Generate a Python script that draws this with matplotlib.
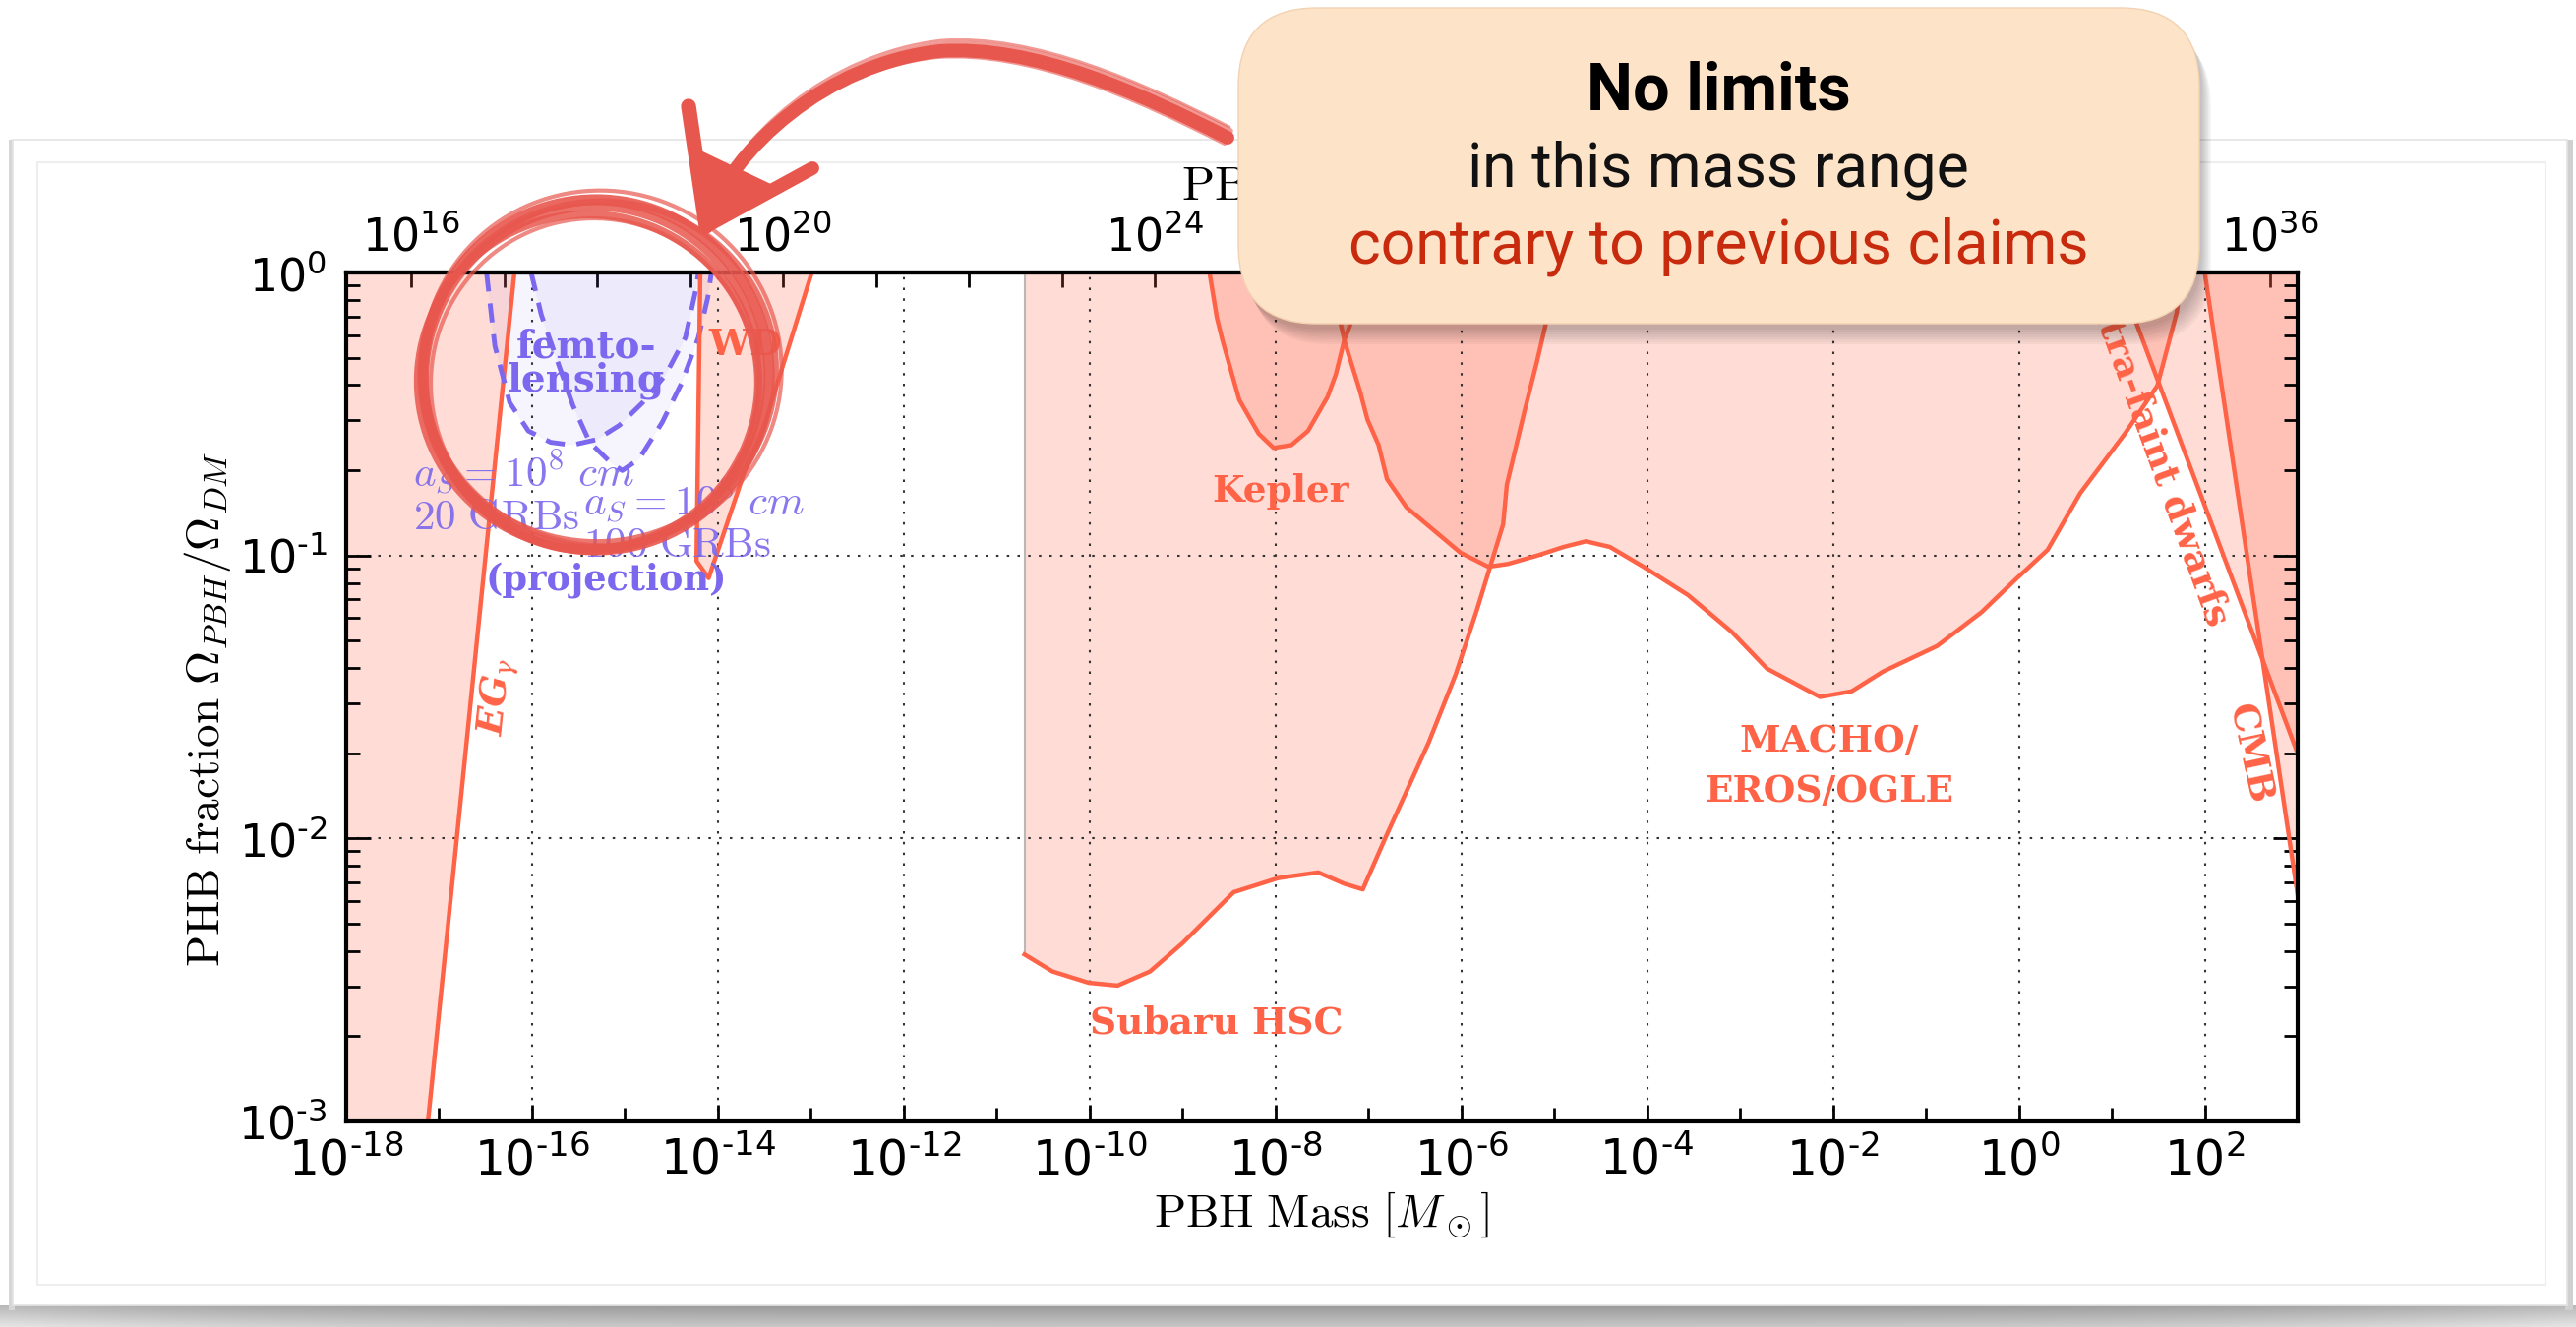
import numpy as np
import matplotlib.pyplot as plt
from matplotlib.patches import FancyBboxPatch, Ellipse, Rectangle, Polygon, PathPatch
from matplotlib.path import Path
from matplotlib.transforms import Affine2D

# ==========================
# Data (log10 values)
# x: log10(M / M_sun), y: log10(f = Omega_PBH / Omega_DM)
# ==========================
egamma_logm = [-17.12, -16.19]
egamma_logf = [-3.0, 0.0]

wd_logm = [-14.19, -14.23, -14.10, -13.71, -13.50, -12.99]
wd_logf = [0.0, -1.02, -1.08, -0.70, -0.54, 0.0]

femto20_logm = [-16.49, -16.40, -16.24, -16.04, -15.80, -15.57, -15.30, -15.06,
                -14.81, -14.56, -14.35, -14.23, -14.21]
femto20_logf = [0.0, -0.26, -0.46, -0.56, -0.60, -0.61, -0.59, -0.54,
                -0.46, -0.36, -0.23, -0.05, 0.0]

femto100_logm = [-16.01, -15.90, -15.72, -15.56, -15.38, -15.16, -15.03, -14.85,
                 -14.60, -14.39, -14.21, -14.11, -14.07]
femto100_logf = [0.0, -0.15, -0.32, -0.47, -0.60, -0.67, -0.70, -0.66,
                 -0.53, -0.39, -0.23, -0.09, 0.0]

hsc_logm = [-10.70, -10.40, -10.01, -9.70, -9.35, -9.00, -8.45, -7.97, -7.54, -7.26,
            -7.06, -6.82, -6.35, -6.06, -5.83, -5.69, -5.55, -5.51, -5.32, -5.19,
            -5.09, -5.04]
hsc_logf = [-2.41, -2.47, -2.51, -2.52, -2.47, -2.37, -2.19, -2.14, -2.12, -2.16,
            -2.18, -2.00, -1.66, -1.42, -1.19, -1.04, -0.89, -0.75, -0.49, -0.32,
            -0.18, 0.0]

kepler_logm = [-8.71, -8.63, -8.57, -8.39, -8.18, -8.02, -7.83, -7.65, -7.44,
               -7.35, -7.26, -7.19, -7.12]
kepler_logf = [0.0, -0.16, -0.24, -0.45, -0.57, -0.62, -0.61, -0.56, -0.44,
               -0.36, -0.24, -0.18, 0.0]

eros_logm = [-7.42, -7.30, -7.25, -7.09, -7.01, -6.89, -6.80, -6.59, -6.30, -6.01,
             -5.71, -5.50, -5.18, -4.90, -4.66, -4.40, -4.04, -3.56, -3.09, -2.71,
             -2.14, -1.80, -1.46, -0.88, -0.40, -0.02, 0.08, 0.31, 0.66, 1.14,
             1.49, 1.70, 1.75]
eros_logf = [0.0, -0.18, -0.25, -0.42, -0.52, -0.61, -0.73, -0.83, -0.91, -0.99,
             -1.04, -1.03, -1.00, -0.97, -0.95, -0.97, -1.04, -1.14, -1.27, -1.40,
             -1.50, -1.48, -1.41, -1.32, -1.20, -1.08, -1.05, -0.98, -0.78, -0.57,
             -0.40, -0.14, 0.0]

ufd_logm = [1.06, 3.0]
ufd_logf = [0.0, -1.70]

cmb_logm = [2.0, 3.0]
cmb_logf = [0.0, -2.20]

bottom_exps = list(range(-18, 3, 2))
top_exps = list(range(16, 37, 4))
y_exps = [-3, -2, -1, 0]

MSUN_G = 1.989e33
XMIN, XMAX = 1e-18, 1e3
YMIN, YMAX = 1e-3, 1.0

RED = "#FF6347"
BLUE = "#7B68EE"
BRUSH = "#E8574E"

W, H = 2619, 1349
fig = plt.figure(figsize=(W / 100, H / 100), dpi=100)


def tick_label(e):
    if e < 0:
        return r"$\mathdefault{10^{\text{-}%d}}$" % (-e)
    return r"$\mathdefault{10^{%d}}$" % e


def p(v):
    return 10.0 ** np.asarray(v, dtype=float)


# ==========================
# Slide card in the background
# ==========================
bg = fig.add_axes([0, 0, 1, 1], zorder=0)
bg.set_xlim(0, W)
bg.set_ylim(H, 0)
bg.axis("off")
u = np.linspace(-1, 1, 300)
v = np.linspace(0, 1, 30)[:, None]
shade = 0.60 + 0.18 * v + 0.12 * u[None, :] ** 4
bg.imshow(shade, cmap="gray", vmin=0, vmax=1, extent=[0, W, H, 1327], aspect="auto")
bg.add_patch(Rectangle((9, 142), 6, 1190, fc="#d6d6d6", ec="none"))
bg.add_patch(Rectangle((2608, 142), 8, 1190, fc="#d0d0d0", ec="none"))
bg.add_patch(Rectangle((13, 142), 2597, 1185, fc="white", ec="#e4e4e4", lw=1.2))
bg.add_patch(Rectangle((38, 165), 2550, 1141, fc="none", ec="#eeeeee", lw=1.5))

# ==========================
# Main constraint plot
# ==========================
ax = fig.add_axes([352 / W, 1 - 1140 / H, (2336 - 352) / W, (1140 - 277) / H], zorder=1)
ax.set_xscale("log")
ax.set_yscale("log")
ax.set_xlim(XMIN, XMAX)
ax.set_ylim(YMIN, YMAX)

fill_kw = dict(color=RED, alpha=0.22, lw=0, zorder=1)
line_kw = dict(color=RED, lw=3.2, zorder=2, solid_joinstyle="round")

# extragalactic gamma rays
ax.fill(np.r_[XMIN, p(egamma_logm), XMIN], np.r_[YMIN, p(egamma_logf), YMAX], **fill_kw)
ax.plot(p(egamma_logm), p(egamma_logf), **line_kw)

# femtolensing (projection)
for lm, lf in [(femto20_logm, femto20_logf), (femto100_logm, femto100_logf)]:
    ax.fill(p(lm), p(lf), fc=BLUE, alpha=0.065, ec="0.88", lw=1.5, zorder=1)
    ax.plot(p(lm), p(lf), color=BLUE, lw=3.5, ls=(0, (4, 2.5)), zorder=2)

# white dwarfs
ax.fill(p(wd_logm), p(wd_logf), **fill_kw)
ax.plot(p(wd_logm), p(wd_logf), **line_kw)

# Subaru HSC
hx = np.r_[p(hsc_logm[0]), p(hsc_logm)]
hy = np.r_[YMAX, p(hsc_logf)]
ax.fill(hx, hy, fc=RED, alpha=0.22, ec="none", zorder=1)
ax.plot([hx[0], hx[0]], [hy[0], hy[1]], color="0.72", lw=1.5, zorder=1.2)
ax.plot(p(hsc_logm), p(hsc_logf), **line_kw)

# Kepler
ax.fill(p(kepler_logm), p(kepler_logf), **fill_kw)
ax.plot(p(kepler_logm), p(kepler_logf), **line_kw)

# MACHO / EROS / OGLE
ax.fill(p(eros_logm), p(eros_logf), **fill_kw)
ax.plot(p(eros_logm), p(eros_logf), **line_kw)

# ultra-faint dwarfs and CMB
for lm, lf in [(ufd_logm, ufd_logf), (cmb_logm, cmb_logf)]:
    ax.fill(np.r_[p(lm), XMAX], np.r_[p(lf), YMAX], **fill_kw)
    ax.plot(p(lm), p(lf), **line_kw)

# ticks and grid
ax.set_xticks(p(bottom_exps))
ax.set_xticklabels([tick_label(e) for e in bottom_exps])
ax.set_xticks(p(np.arange(-17, 3, 2)), minor=True)
ax.set_xticklabels([], minor=True)
ax.set_yticks(p(y_exps))
ax.set_yticklabels([tick_label(e) for e in y_exps])
ax.set_yticks([m * 10.0 ** d for d in (-3, -2, -1) for m in range(2, 10)], minor=True)
ax.set_yticklabels([], minor=True)
ax.tick_params(which="both", direction="in", top=False, right=True, width=2)
ax.tick_params(axis="x", which="major", length=12, pad=11, labelsize=35)
ax.tick_params(axis="x", which="minor", length=10)
ax.tick_params(axis="y", which="major", length=18, pad=14, labelsize=33)
ax.tick_params(axis="y", which="minor", length=10)
ax.grid(True, which="major", ls=(0, (1.2, 4)), color="0.2", lw=1.5)
for s in ax.spines.values():
    s.set_linewidth(3)

ax.set_xlabel(r"$\mathrm{PBH\ Mass}\ [M_\odot]$", fontsize=34, math_fontfamily="cm")
ax.xaxis.set_label_coords(0.5, -0.08)
ax.set_ylabel(r"$\mathrm{PHB\ fraction}\ \Omega_{PBH}/\Omega_{DM}$", fontsize=34,
              math_fontfamily="cm")
ax.yaxis.set_label_coords(-0.058, 0.485)

sec = ax.secondary_xaxis("top", functions=(lambda m: m * MSUN_G, lambda g: g / MSUN_G))
sec.set_xticks(p(top_exps))
sec.set_xticklabels([tick_label(e) for e in top_exps])
sec.set_xticks(p(np.arange(15, 37)), minor=True)
sec.set_xticklabels([], minor=True)
sec.tick_params(which="both", direction="in", length=11, width=2, labelsize=33, pad=9)
sec.spines["top"].set_linewidth(3)
sec.set_xlabel(r"$\mathrm{PBH\ Mass}\ [g]$", fontsize=35, math_fontfamily="cm", labelpad=11)

# constraint labels
lab = dict(color=RED, family="DejaVu Serif", weight="bold", fontsize=27,
           ha="center", va="center", zorder=3)
ax.text(p(-13.71), p(-0.254), "WD", **lab)
ax.text(p(-7.94), p(-0.775), "Kepler", **lab)
ax.text(p(-8.64), p(-2.652), "Subaru HSC", **lab)
ax.text(p(-2.04), p(-1.745), "MACHO/\nEROS/OGLE", linespacing=1.45, **lab)
ax.text(p(1.475), p(-0.633), "Ultra-faint dwarfs", rotation=-70, **lab)
ax.text(p(2.48), p(-1.70), "CMB", rotation=-78, **lab)
ax.text(p(-16.37), p(-1.50), r"EG$_\gamma$", rotation=84, style="italic",
        math_fontfamily="dejavuserif", **lab)

blab = dict(color=BLUE, family="DejaVu Serif", weight="bold",
            ha="center", va="center", zorder=3)
ax.text(p(-15.42), p(-0.323), "femto-\nlensing", linespacing=0.85, fontsize=28, **blab)
ax.text(p(-15.20), p(-1.088), "(projection)", fontsize=26.5, **blab)
ax.text(p(-17.28), p(-0.779), "$a_S=10^8\\ cm$\n$\\mathrm{20\\ GRBs}$", color=BLUE,
        fontsize=31, math_fontfamily="cm", ha="left", va="center", alpha=0.9,
        linespacing=0.95, zorder=3)
ax.text(p(-15.45), p(-0.879), "$a_S=10^8\\ cm$\n$\\mathrm{100\\ GRBs}$", color=BLUE,
        fontsize=31, math_fontfamily="cm", ha="left", va="center", alpha=0.9,
        linespacing=0.95, zorder=3)

# ==========================
# Overlay: hand-drawn circle, arrow and callout box (pixel coordinates)
# ==========================
ov = fig.add_axes([0, 0, 1, 1], zorder=3)
ov.set_xlim(0, W)
ov.set_ylim(H, 0)
ov.axis("off")

for cx, cy, w, h, ang, lw, a in [(606, 381, 352, 356, 0, 8, 0.9),
                                 (603, 385, 342, 350, 12, 6, 0.85),
                                 (609, 378, 360, 346, -10, 4.5, 0.8),
                                 (598, 388, 346, 340, 5, 6, 0.85),
                                 (612, 374, 366, 360, 20, 3, 0.7),
                                 (604, 390, 332, 336, -4, 3, 0.7)]:
    ov.add_patch(Ellipse((cx, cy), w, h, angle=ang, fill=False, ec=BRUSH, lw=lw, alpha=a))

arrow_path = Path([(1248, 140), (1160, 95), (1050, 45), (955, 52),
                   (840, 65), (745, 150), (718, 226)],
                  [Path.MOVETO, Path.CURVE4, Path.CURVE4, Path.CURVE4,
                   Path.CURVE4, Path.CURVE4, Path.CURVE4])
ov.add_patch(PathPatch(arrow_path, fill=False, ec=BRUSH, lw=10, capstyle="round"))
for dx, dy, lw in [(3, -7, 4), (-3, 6, 3), (2, -11, 2)]:
    ov.add_patch(PathPatch(arrow_path.transformed(Affine2D().translate(dx, dy)),
                           fill=False, ec=BRUSH, lw=lw, alpha=0.6, capstyle="round"))
ov.plot([700, 718], [108, 230], color=BRUSH, lw=11, solid_capstyle="round")
ov.plot([718, 826], [230, 171], color=BRUSH, lw=10, solid_capstyle="round")
ov.add_patch(Polygon([(706, 150), (718, 230), (790, 190)], fc=BRUSH, ec="none"))

for k in range(7):
    ov.add_patch(FancyBboxPatch((1262 + 1.5 * k, 14 + 2.5 * k), 977, 321,
                                boxstyle="round,pad=0,rounding_size=80",
                                fc="black", ec="none", alpha=0.035))
ov.add_patch(FancyBboxPatch((1259, 8), 977, 321, boxstyle="round,pad=0,rounding_size=80",
                            fc="#FDE3C7", ec="#f2d2b2", lw=1))
ov.text(1747, 94, "No limits", fontsize=48, weight="bold", family="Roboto",
        ha="center", va="center", color="black")
ov.text(1747, 173, "in this mass range", fontsize=45, family="Roboto",
        ha="center", va="center", color="#111111")
ov.text(1747, 251, "contrary to previous claims", fontsize=45,
        family="Roboto", ha="center", va="center", color="#C82A0E")

fig.savefig("out.png", dpi=100)
